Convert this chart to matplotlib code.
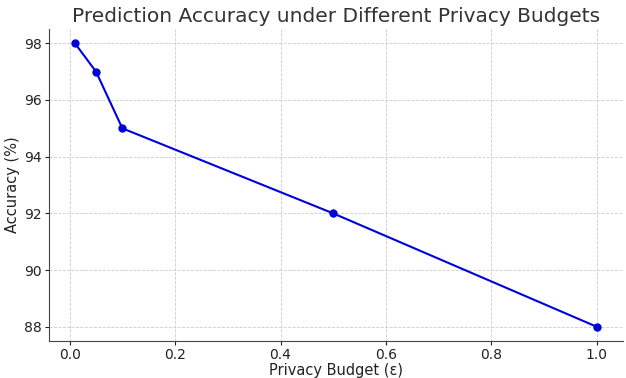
import matplotlib
matplotlib.use("Agg")
import matplotlib.pyplot as plt

epsilon = [0.01, 0.05, 0.1, 0.5, 1.0]
accuracy = [98, 97, 95, 92, 88]

fig = plt.figure(figsize=(6.26, 3.78), dpi=100)
ax = fig.add_axes([0.078, 0.098, 0.917, 0.825])
ax.plot(epsilon, accuracy, marker='o', color='#0000dd', linewidth=1.5, markersize=5)
ax.set_title("Prediction Accuracy under Different Privacy Budgets", fontsize=14.5, color='#333333', pad=5)
ax.set_xlabel("Privacy Budget (ε)", fontsize=10.5, color='#222222', labelpad=1)
ax.set_ylabel("Accuracy (%)", fontsize=10.5, color='#222222', labelpad=3)
ax.grid(True, linestyle='--', linewidth=0.6, color='#cccccc')
ax.set_axisbelow(True)
for s in ['top', 'right']:
    ax.spines[s].set_visible(False)
for s in ['left', 'bottom']:
    ax.spines[s].set_color('#444444')
ax.tick_params(labelsize=10, colors='#222222', length=3, pad=2)
fig.savefig("out.png", dpi=100)
